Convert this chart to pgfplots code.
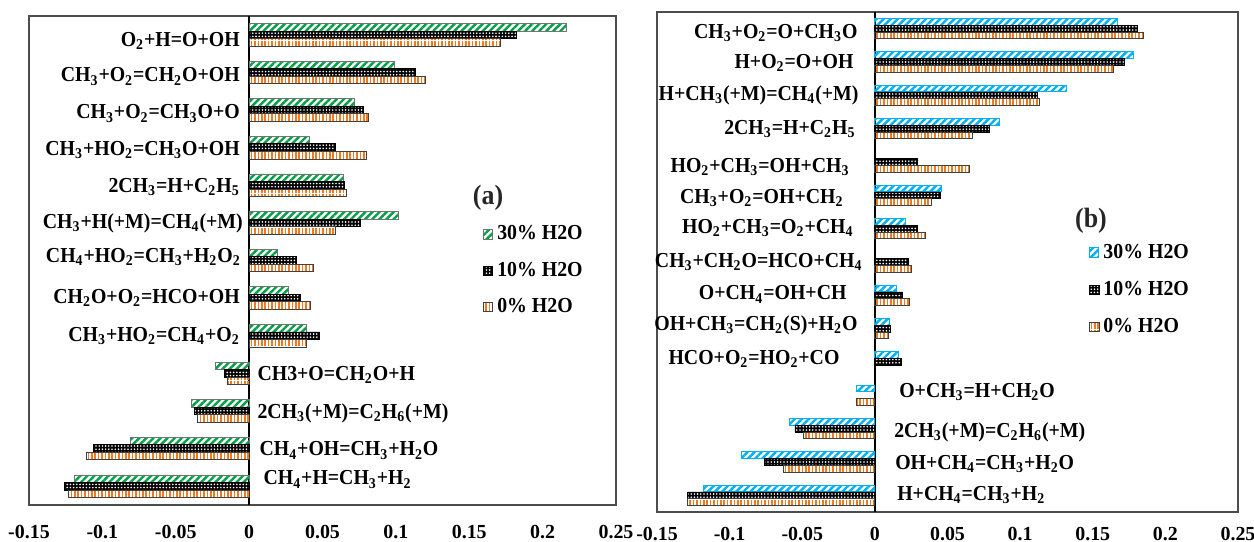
\documentclass[border=0pt]{standalone}
\usepackage{pgfplots}
\pgfplotsset{compat=1.18}
\usepackage{pgfplotstable}
\usetikzlibrary{patterns.meta}
\usepackage{fontspec}
\setmainfont{Liberation Serif}[FakeStretch=0.93]
\newfontfamily\tickfamily{Liberation Serif}
\definecolor{cgreen}{RGB}{0,160,70}
\definecolor{corange}{RGB}{240,120,30}
\definecolor{cblue}{RGB}{0,176,240}
\newcommand{\sub}[1]{\textsubscript{#1}}
\newcommand{\lf}{\bfseries\fontsize{10.7}{12}\selectfont}
\newcommand{\tf}{\tickfamily\bfseries\fontsize{10}{12}\selectfont}

\pgfplotstableread{
y a30 a10 a0
13 0.216 0.182 0.171
12 0.099 0.113 0.120
11 0.072 0.078 0.081
10 0.041 0.059 0.080
9 0.064 0.065 0.066
8 0.102 0.076 0.059
7 0.019 0.032 0.044
6 0.027 0.035 0.042
5 0.039 0.048 0.039
4 -0.023 -0.017 -0.015
3 -0.039 -0.037 -0.035
2 -0.081 -0.106 -0.111
1 -0.119 -0.126 -0.123
}\tabA

\pgfplotstableread{
y b30 b10 b0
15 0.167 0.181 0.185
14 0.178 0.172 0.164
13 0.132 0.112 0.113
12 0.086 0.079 0.067
11 nan 0.029 0.065
10 0.046 0.045 0.039
9 0.021 0.029 0.035
8 nan 0.023 0.025
7 0.015 0.019 0.024
6 0.010 0.011 0.009
5 0.016 0.018 nan
4 -0.013 nan -0.013
3 -0.059 -0.055 -0.049
2 -0.092 -0.076 -0.063
1 -0.118 -0.129 -0.129
}\tabB

\tikzset{
 p30a/.style={draw=black!55, line width=0.4bp, pattern={Lines[angle=45,distance=2.5bp,line width=1.2bp]}, pattern color=cgreen},
 p30b/.style={draw=cblue, line width=0.5bp, pattern={Lines[angle=45,distance=2.5bp,line width=1.2bp]}, pattern color=cblue},
 p10/.style={draw=black, line width=0.4bp, preaction={fill=black}, pattern={Dots[distance=1.6bp,radius=0.45bp]}, pattern color=white},
 p0/.style={draw=black!75, line width=0.4bp, pattern={Lines[angle=90,distance=1.7bp,line width=0.85bp]}, pattern color=corange},
}

\pgfplotsset{
 mybase/.style={
  anchor=south west, scale only axis,
  xmin=-0.15, xmax=0.25,
  xtick={-0.15,-0.1,-0.05,0,0.05,0.1,0.15,0.2,0.25},
  xticklabels={-0.15,-0.1,-0.05,0,0.05,0.1,0.15,0.2,0.25},
  ytick=\empty,
  major tick length=0pt,
  xticklabel style={font=\tf, inner sep=0pt, yshift=-10bp},
  axis line style={black!70, line width=0.7bp},
  extra x ticks={0}, extra x tick labels={},
  extra x tick style={grid=major, major grid style={black, line width=0.9bp}},
  xbar, bar width=0.2,
  clip=false,
  legend style={anchor=north west, draw=none, fill=none, font=\lf,
    row sep=9.5bp, column sep=2bp, nodes={inner sep=0pt, anchor=west}},
  legend cell align=left,
  legend image code/.code={\draw[##1] (0bp,-2.3bp) rectangle (4.6bp,2.3bp);},
 },
}

\begin{document}
\begin{tikzpicture}
\path[use as bounding box] (0,0) rectangle (627bp,271bp);

% ---------- panel (a)
\begin{axis}[mybase, at={(14.5bp,18.5bp)}, width=293.5bp, height=244.5bp,
  ymin=0.5, ymax=13.5,
  legend style={at={(0.763,0.58)}}]
\addplot[p30a, bar shift=0.2] table[x=a30,y=y]{\tabA};
\addlegendentry{30\% H2O}
\addplot[p10, bar shift=0] table[x=a10,y=y]{\tabA};
\addlegendentry{10\% H2O}
\addplot[p0, bar shift=-0.2] table[x=a0,y=y]{\tabA};
\addlegendentry{0\% H2O}

\node[font=\bfseries\fontsize{14}{16}\selectfont, text=black!85] at (rel axis cs:0.782,0.628) {(a)};

\begin{scope}[every node/.style={font=\lf, inner sep=0pt}]
\node[anchor=east, xshift=-4.5bp] at (axis cs:0,12.83) {O\sub{2}+H=O+OH};
\node[anchor=east, xshift=-4.5bp] at (axis cs:0,11.89) {CH\sub{3}+O\sub{2}=CH\sub{2}O+OH};
\node[anchor=east, xshift=-4.5bp] at (axis cs:0,10.91) {CH\sub{3}+O\sub{2}=CH\sub{3}O+O};
\node[anchor=east, xshift=-4.5bp] at (axis cs:0,9.94) {CH\sub{3}+HO\sub{2}=CH\sub{3}O+OH};
\node[anchor=east, xshift=-4.5bp] at (axis cs:0,8.96) {2CH\sub{3}=H+C\sub{2}H\sub{5}};
\node[anchor=east, xshift=-3bp] at (axis cs:0,8) {CH\sub{3}+H(+M)=CH\sub{4}(+M)};
\node[anchor=east, xshift=-4bp] at (axis cs:0,7.09) {CH\sub{4}+HO\sub{2}=CH\sub{3}+H\sub{2}O\sub{2}};
\node[anchor=east, xshift=-4.5bp] at (axis cs:0,6) {CH\sub{2}O+O\sub{2}=HCO+OH};
\node[anchor=east, xshift=-4.5bp] at (axis cs:0,5) {CH\sub{3}+HO\sub{2}=CH\sub{4}+O\sub{2}};
\node[anchor=west, xshift=4bp] at (axis cs:0,3.96) {CH3+O=CH\sub{2}O+H};
\node[anchor=west, xshift=4bp] at (axis cs:0,2.93) {2CH\sub{3}(+M)=C\sub{2}H\sub{6}(+M)};
\node[anchor=west, xshift=5bp] at (axis cs:0,1.95) {CH\sub{4}+OH=CH\sub{3}+H\sub{2}O};
\node[anchor=west, xshift=7bp] at (axis cs:0,1.18) {CH\sub{4}+H=CH\sub{3}+H\sub{2}};
\end{scope}
\end{axis}

% ---------- panel (b)
\begin{axis}[mybase, at={(328.5bp,15bp)}, width=290.5bp, height=250bp,
  ymin=0.5, ymax=15.5,
  xticklabel style={yshift=2.5bp},
  legend style={at={(0.733,0.545)}, row sep=10bp}]
\addplot[p30b, bar shift=0.2] table[x=b30,y=y]{\tabB};
\addlegendentry{30\% H2O}
\addplot[p10, bar shift=0] table[x=b10,y=y]{\tabB};
\addlegendentry{10\% H2O}
\addplot[p0, bar shift=-0.2] table[x=b0,y=y]{\tabB};
\addlegendentry{0\% H2O}

\node[font=\bfseries\fontsize{14}{16}\selectfont, text=black!85] at (rel axis cs:0.747,0.582) {(b)};

\begin{scope}[every node/.style={font=\lf, inner sep=0pt}]
\node[anchor=east, xshift=-8.5bp] at (axis cs:0,14.87) {CH\sub{3}+O\sub{2}=O+CH\sub{3}O};
\node[anchor=east, xshift=-10.5bp] at (axis cs:0,13.97) {H+O\sub{2}=O+OH};
\node[anchor=east, xshift=-8bp] at (axis cs:0,13) {H+CH\sub{3}(+M)=CH\sub{4}(+M)};
\node[anchor=east, xshift=-9.5bp] at (axis cs:0,12) {2CH\sub{3}=H+C\sub{2}H\sub{5}};
\node[anchor=east, xshift=-12.5bp] at (axis cs:0,10.85) {HO\sub{2}+CH\sub{3}=OH+CH\sub{3}};
\node[anchor=east, xshift=-15.5bp] at (axis cs:0,9.92) {CH\sub{3}+O\sub{2}=OH+CH\sub{2}};
\node[anchor=east, xshift=-10.5bp] at (axis cs:0,9.02) {HO\sub{2}+CH\sub{3}=O\sub{2}+CH\sub{4}};
\node[anchor=east, xshift=-6bp] at (axis cs:0,8) {CH\sub{3}+CH\sub{2}O=HCO+CH\sub{4}};
\node[anchor=east, xshift=-14bp] at (axis cs:0,7.03) {O+CH\sub{4}=OH+CH};
\node[anchor=east, xshift=-8.5bp] at (axis cs:0,6.1) {OH+CH\sub{3}=CH\sub{2}(S)+H\sub{2}O};
\node[anchor=east, xshift=-17.5bp] at (axis cs:0,5.1) {HCO+O\sub{2}=HO\sub{2}+CO};
\node[anchor=west, xshift=12bp] at (axis cs:0,4.09) {O+CH\sub{3}=H+CH\sub{2}O};
\node[anchor=west, xshift=9.5bp] at (axis cs:0,2.9) {2CH\sub{3}(+M)=C\sub{2}H\sub{6}(+M)};
\node[anchor=west, xshift=10bp] at (axis cs:0,1.93) {OH+CH\sub{4}=CH\sub{3}+H\sub{2}O};
\node[anchor=west, xshift=11bp] at (axis cs:0,1) {H+CH\sub{4}=CH\sub{3}+H\sub{2}};
\end{scope}
\end{axis}
\end{tikzpicture}
\end{document}
